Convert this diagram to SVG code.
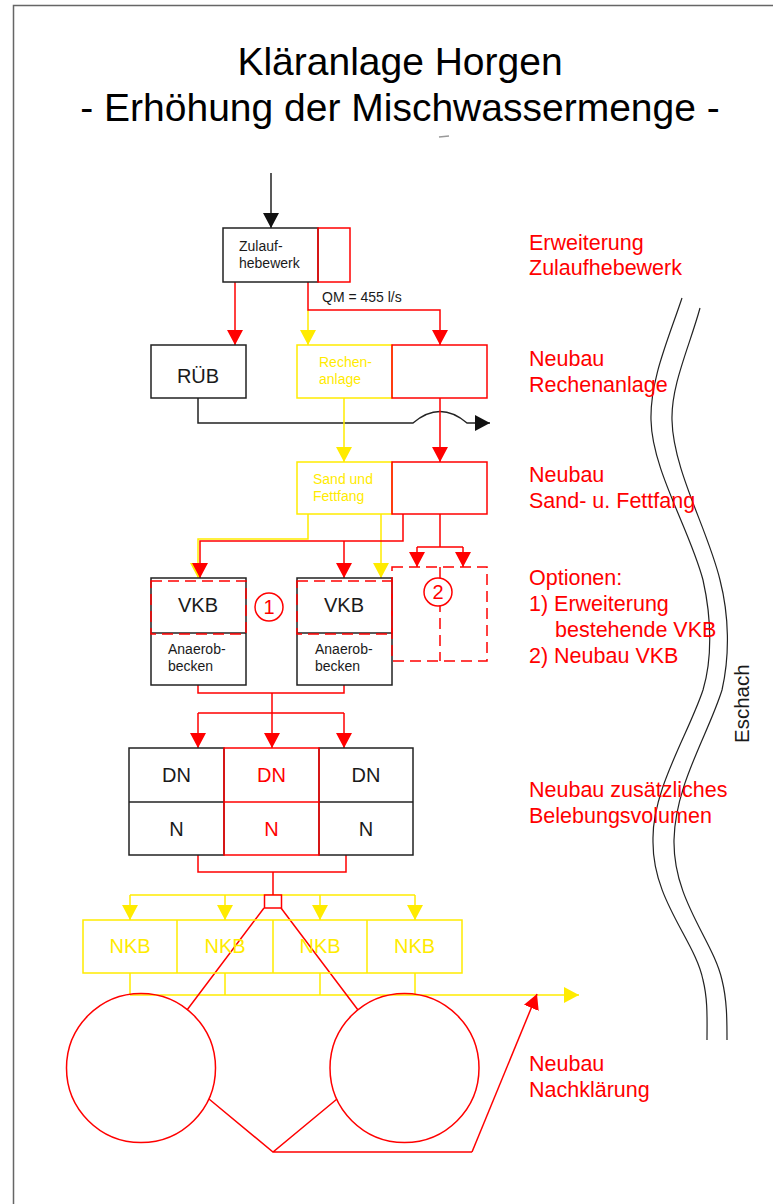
<svg xmlns="http://www.w3.org/2000/svg" width="773" height="1204" viewBox="0 0 773 1204">
<defs>
<style>
text{font-family:"Liberation Sans",Arial,sans-serif}
.r{stroke:#ff0000;fill:none;stroke-width:1.5}
.y{stroke:#ffeb00;fill:none;stroke-width:1.5}
.k{stroke:#222;fill:none;stroke-width:1.5}
.rd{stroke:#ff0000;fill:none;stroke-width:1.5;stroke-dasharray:11 6}
.box{fill:#fff;stroke:#222;stroke-width:1.5}
.rbox{fill:none;stroke:#ff0000;stroke-width:1.5}
.ybox{fill:none;stroke:#ffeb00;stroke-width:1.5}
.tr{fill:#ff0000}
.ty{fill:#ffeb00}
.tk{fill:#1a1a1a}
.s14{font-size:14px}
.s20{font-size:20px}
.lab{font-size:21.5px;fill:#ff0000}
.river{stroke:#222;fill:none;stroke-width:1.2}
</style>
<marker id="ar" markerUnits="userSpaceOnUse" markerWidth="16" markerHeight="16" refX="15" refY="8" orient="auto" viewBox="0 0 16 16"><path d="M0,0 L15,8 L0,16 z" fill="#ff0000"/></marker>
<marker id="ay" markerUnits="userSpaceOnUse" markerWidth="16" markerHeight="16" refX="15" refY="8" orient="auto" viewBox="0 0 16 16"><path d="M0,0 L15,8 L0,16 z" fill="#ffeb00"/></marker>
<marker id="ak" markerUnits="userSpaceOnUse" markerWidth="16" markerHeight="16" refX="15" refY="8" orient="auto" viewBox="0 0 16 16"><path d="M0,0 L15,8 L0,16 z" fill="#111"/></marker>
</defs>
<rect x="0" y="0" width="773" height="1204" fill="#fff"/>
<rect x="13.5" y="5.5" width="790" height="1230" fill="none" stroke="#666" stroke-width="1.5"/>

<g id="title">
<text x="400" y="75" text-anchor="middle" font-size="39" fill="#000">Kläranlage Horgen</text>
<text x="400" y="121" text-anchor="middle" font-size="39" fill="#000">- Erhöhung der Mischwassermenge -</text>
<path d="M439,137 L449,136" stroke="#999" stroke-width="1.5" fill="none"/>
</g>

<g id="connectors">
<!-- black -->
<path class="k" d="M271,173 V228" marker-end="url(#ak)"/>
<path class="k" d="M198,398 V423 H413 Q440,400 467,423 H490" marker-end="url(#ak)"/>
<!-- yellow -->
<path class="y" d="M308,310 V345" marker-end="url(#ay)"/>
<path class="y" d="M344,398 V462" marker-end="url(#ay)"/>
<path class="y" d="M308,514 V539 H198 V578" marker-end="url(#ay)"/>
<path class="y" d="M381,514 V578" marker-end="url(#ay)"/>
<path class="y" d="M130,895 H415"/>
<path class="y" d="M130,895 V920" marker-end="url(#ay)"/>
<path class="y" d="M225,895 V920" marker-end="url(#ay)"/>
<path class="y" d="M320,895 V920" marker-end="url(#ay)"/>
<path class="y" d="M415,895 V920" marker-end="url(#ay)"/>
<path class="y" d="M130,973 V995 M225,973 V995 M320,973 V995 M415,973 V995"/>
<path class="y" d="M130,995 H579" marker-end="url(#ay)"/>
<!-- red -->
<path class="r" d="M235,282 V345" marker-end="url(#ar)"/>
<path class="r" d="M308,282 V310 H440 V345" marker-end="url(#ar)"/>
<path class="r" d="M440,398 V462" marker-end="url(#ar)"/>
<path class="r" d="M403,514 V541 H200 V578" marker-end="url(#ar)"/>
<path class="r" d="M344,541 V578" marker-end="url(#ar)"/>
<path class="r" d="M440,514 V547 M417,547 H463"/>
<path class="r" d="M417,547 V567" marker-end="url(#ar)"/>
<path class="r" d="M463,547 V567" marker-end="url(#ar)"/>
<path class="r" d="M198,685 V693 H344 V685 M198,713 H344"/>
<path class="r" d="M272,693 V748" marker-end="url(#ar)"/>
<path class="r" d="M198,713 V748" marker-end="url(#ar)"/>
<path class="r" d="M344,713 V748" marker-end="url(#ar)"/>
<path class="r" d="M198,855 V872 H346 V855 M273,872 V895"/>
<path class="r" d="M264,908 L187,1010 M281,908 L358,1010"/>
<path class="r" d="M209,1099 L273,1152 L337,1099 M273,1152 H472"/>
<path class="r" d="M472,1152 L537,994" marker-end="url(#ar)"/>
</g>

<g id="zulaufhebewerk">
<rect class="box" x="223" y="228" width="95" height="54"/>
<rect class="rbox" x="318" y="228" width="32" height="54"/>
<text class="tk s14" x="239" y="251">Zulauf-</text>
<text class="tk s14" x="239" y="268">hebewerk</text>
</g>
<g id="qm-label"><text class="tk s14" x="322" y="302">QM = 455 l/s</text></g>

<g id="rueb">
<rect class="box" x="151" y="345" width="95" height="53"/>
<text class="tk s20" x="198" y="383" text-anchor="middle">RÜB</text>
</g>

<g id="rechenanlage">
<rect class="ybox" x="297" y="345" width="95" height="53"/>
<text class="ty s14" x="319" y="367">Rechen-</text>
<text class="ty s14" x="319" y="384">anlage</text>
</g>
<g id="rechenanlage-neu"><rect class="rbox" x="392" y="345" width="95" height="53"/></g>

<g id="sandfang">
<rect class="ybox" x="297" y="462" width="95" height="52"/>
<text class="ty s14" x="313" y="484">Sand und</text>
<text class="ty s14" x="313" y="501">Fettfang</text>
</g>
<g id="sandfang-neu"><rect class="rbox" x="392" y="462" width="95" height="52"/></g>

<g id="vkb1">
<rect class="box" x="151" y="578" width="95" height="107"/>
<line class="k" x1="151" y1="633" x2="246" y2="633"/>
<text class="tk s20" x="198" y="612" text-anchor="middle">VKB</text>
<text class="tk s14" x="168" y="654">Anaerob-</text>
<text class="tk s14" x="168" y="671">becken</text>
<rect class="rd" x="151" y="581" width="95" height="53"/>
</g>
<g id="option1">
<circle cx="269" cy="607" r="14" fill="#fff" stroke="#ff0000" stroke-width="1.5"/>
<text class="tr s20" x="269" y="614" text-anchor="middle">1</text>
</g>

<g id="vkb2">
<rect class="box" x="297" y="578" width="95" height="107"/>
<line class="k" x1="297" y1="633" x2="392" y2="633"/>
<text class="tk s20" x="344" y="612" text-anchor="middle">VKB</text>
<text class="tk s14" x="315" y="654">Anaerob-</text>
<text class="tk s14" x="315" y="671">becken</text>
<rect class="rd" x="297" y="581" width="95" height="53"/>
</g>

<g id="option2">
<rect class="rd" x="392" y="567" width="95" height="94"/>
<line class="rd" x1="440" y1="567" x2="440" y2="661"/>
<circle cx="438" cy="592" r="14" fill="#fff" stroke="#ff0000" stroke-width="1.5"/>
<text class="tr s20" x="438" y="599" text-anchor="middle">2</text>
</g>

<g id="belebung-links">
<rect class="box" x="129" y="748" width="95" height="107"/>
<line class="k" x1="129" y1="802" x2="224" y2="802"/>
<text class="tk s20" x="176.5" y="782" text-anchor="middle">DN</text>
<text class="tk s20" x="176.5" y="836" text-anchor="middle">N</text>
</g>
<g id="belebung-rechts">
<rect class="box" x="319" y="748" width="94" height="107"/>
<line class="k" x1="319" y1="802" x2="413" y2="802"/>
<text class="tk s20" x="366" y="782" text-anchor="middle">DN</text>
<text class="tk s20" x="366" y="836" text-anchor="middle">N</text>
</g>
<g id="belebung-neu">
<rect class="rbox" x="224" y="748" width="95" height="107" fill="#fff"/>
<line class="r" x1="224" y1="802" x2="319" y2="802"/>
<text class="tr s20" x="271.5" y="782" text-anchor="middle">DN</text>
<text class="tr s20" x="271.5" y="836" text-anchor="middle">N</text>
</g>

<g id="verteiler"><rect x="264.5" y="895" width="17" height="13" fill="#fff" stroke="#ff0000" stroke-width="1.5"/></g>

<g id="nkb">
<rect class="ybox" x="83" y="920" width="379" height="53"/>
<path class="y" d="M177,920 V973 M273,920 V973 M367,920 V973"/>
<text class="ty s20" x="130" y="953" text-anchor="middle">NKB</text>
<text class="ty s20" x="225" y="953" text-anchor="middle">NKB</text>
<text class="ty s20" x="320" y="953" text-anchor="middle">NKB</text>
<text class="ty s20" x="414.5" y="953" text-anchor="middle">NKB</text>
</g>

<g id="nachklaerung-1"><circle cx="141" cy="1068" r="74.5" fill="none" stroke="#ff0000" stroke-width="1.5"/></g>
<g id="nachklaerung-2"><circle cx="404.5" cy="1068" r="74.5" fill="none" stroke="#ff0000" stroke-width="1.5"/></g>

<g id="eschach">
<path class="river" d="M682,298 C668,340 650,380 651,420 C652,470 690,530 703,580 C712,620 712,660 703,690 C688,735 652,790 653,840 C652,900 695,940 703,980 C708,1000 707,1020 707,1040"/>
<path class="river" d="M700,308 C690,345 671,385 672,420 C673,470 708,530 720,580 C729,615 730,655 722,690 C708,735 675,785 674,840 C673,900 713,940 722,980 C727,1000 727,1020 727,1040"/>
<text x="749" y="743" font-size="20.5" fill="#1a1a1a" transform="rotate(-90 749 743)">Eschach</text>
</g>

<g id="labels">
<text class="lab" x="529" y="250">Erweiterung</text>
<text class="lab" x="529" y="275">Zulaufhebewerk</text>
<text class="lab" x="529" y="366">Neubau</text>
<text class="lab" x="529" y="392">Rechenanlage</text>
<text class="lab" x="529" y="482">Neubau</text>
<text class="lab" x="529" y="508">Sand- u. Fettfang</text>
<text class="lab" x="529" y="585">Optionen:</text>
<text class="lab" x="529" y="611">1) Erweiterung</text>
<text class="lab" x="555" y="637">bestehende VKB</text>
<text class="lab" x="529" y="663">2) Neubau VKB</text>
<text class="lab" x="529" y="797">Neubau zusätzliches</text>
<text class="lab" x="529" y="823">Belebungsvolumen</text>
<text class="lab" x="529" y="1071">Neubau</text>
<text class="lab" x="529" y="1097">Nachklärung</text>
</g>
</svg>
